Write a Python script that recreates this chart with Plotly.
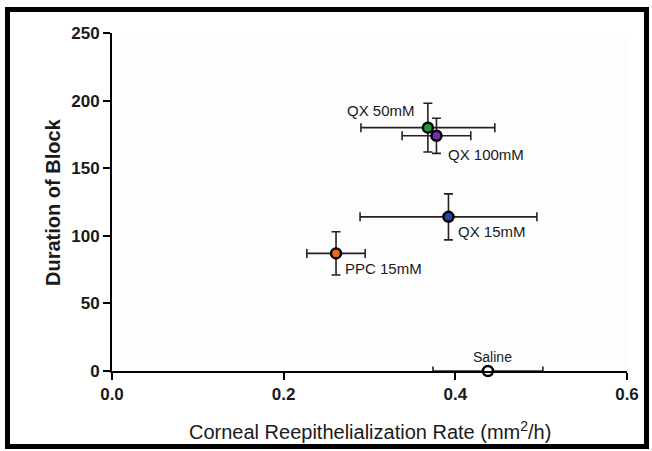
import plotly.graph_objects as go

# Data
labels = ["QX 50mM", "QX 100mM", "QX 15mM", "PPC 15mM", "Saline"]
rate = [0.368, 0.378, 0.392, 0.261, 0.438]
rate_err = [0.078, 0.040, 0.103, 0.034, 0.064]
duration = [180, 174, 114, 87, 0]
duration_err = [18, 13, 17, 16, 0]
colors = ["#1f9a3c", "#7a2fa8", "#2446a8", "#ee6a1a", "#ffffff"]

# Label positions (data coords) and anchors
label_x = [0.355, 0.389, 0.401, 0.2695, 0.443]
label_y = [193, 160, 103, 76, 10.6]
label_anchor = ["right", "left", "left", "left", "center"]
label_size = [15, 15, 15, 15, 14]

x_ticks = [0.0, 0.2, 0.4, 0.6]
x_ticktext = ["0.0", "0.2", "0.4", "0.6"]
y_ticks = [0, 50, 100, 150, 200, 250]

ERR_COLOR = "#2a2020"

fig = go.Figure()
for i in range(len(labels)):
    fig.add_trace(go.Scatter(
        x=[rate[i]], y=[duration[i]],
        mode="markers",
        marker=dict(size=10, color=colors[i], line=dict(color="#000000", width=2.5)),
        error_x=dict(type="data", array=[rate_err[i]], color=ERR_COLOR, thickness=1.6, width=4.5),
        error_y=dict(type="data", array=[duration_err[i]], color=ERR_COLOR, thickness=1.6, width=4.5),
        cliponaxis=False,
        showlegend=False,
        name=labels[i],
    ))

annotations = []
for i in range(len(labels)):
    annotations.append(dict(
        x=label_x[i], y=label_y[i], xref="x", yref="y",
        text=labels[i], showarrow=False,
        xanchor=label_anchor[i], yanchor="middle",
        font=dict(family="Liberation Sans, Arial", size=label_size[i], color="#1a1a1a"),
    ))

# Axis titles
annotations.append(dict(
    x=0.5, y=-0.175, xref="paper", yref="paper",
    text="Corneal Reepithelialization Rate (mm<sup>2</sup>/h)",
    showarrow=False, xanchor="center", yanchor="middle",
    font=dict(family="Liberation Sans, Arial", size=20, color="#1a1a1a"),
))
annotations.append(dict(
    x=(53 - 112) / 515, y=0.5, xref="paper", yref="paper",
    text="<b>Duration of Block</b>", textangle=-90,
    showarrow=False, xanchor="center", yanchor="middle",
    font=dict(family="Liberation Sans, Arial", size=20, color="#1a1a1a"),
))

fig.update_layout(
    width=652, height=451,
    margin=dict(l=112, r=25, t=33, b=80),
    paper_bgcolor="#ffffff",
    plot_bgcolor="#fdfdfd",
    annotations=annotations,
    shapes=[dict(
        type="rect", xref="paper", yref="paper",
        x0=(7.5 - 112) / 515, x1=(646.5 - 112) / 515,
        y0=(371 - 446.5) / 338, y1=(371 - 9.5) / 338,
        line=dict(color="#000000", width=5), fillcolor="rgba(0,0,0,0)",
        layer="below",
    )],
)

fig.update_xaxes(
    range=[0, 0.6], tickvals=x_ticks, ticktext=x_ticktext,
    showgrid=False, zeroline=False,
    showline=True, linecolor="#000000", linewidth=2,
    ticks="outside", ticklen=7, tickwidth=2, tickcolor="#000000",
    tickfont=dict(family="Liberation Sans, Arial", size=17, color="#1a1a1a", weight="bold"),
)
fig.update_yaxes(
    range=[0, 250], tickvals=y_ticks,
    showgrid=False, zeroline=False,
    showline=True, linecolor="#000000", linewidth=2,
    ticks="outside", ticklen=7, tickwidth=2, tickcolor="#000000",
    tickfont=dict(family="Liberation Sans, Arial", size=17, color="#1a1a1a", weight="bold"),
)

fig.write_html(
    "out.html",
    config={"displayModeBar": False},
    post_script="document.body.style.margin='0';document.body.style.overflow='hidden';",
)
